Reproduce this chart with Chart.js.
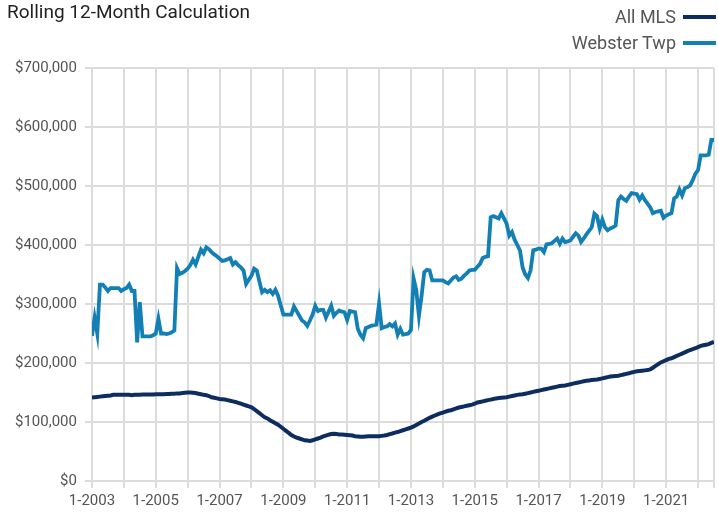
<!DOCTYPE html>
<html>
<head>
<meta charset="utf-8">
<script src="https://cdn.jsdelivr.net/npm/chart.js@4"></script>
<style>
  html, body { margin: 0; padding: 0; background: #fff; }
  body { width: 718px; height: 515px; position: relative; overflow: hidden;
         font-family: 'Liberation Sans Narrow', 'Arial Narrow', Roboto, sans-serif; }
  #wrap { position: absolute; left: 0; top: 0; width: 718px; height: 515px; }
  .title { position: absolute; left: 7px; top: 0px; font-size: 19px; color: #222; }
  .legend { position: absolute; right: 2px; font-size: 18px; color: #555; display: flex; align-items: center; }
  .legend span.swatch { display: inline-block; width: 33px; height: 4px; margin-left: 7px; }
</style>
</head>
<body>
<div id="wrap"><canvas id="chart"></canvas></div>
<div class="title">Rolling 12-Month Calculation</div>
<div class="legend" style="top:6px;">All MLS<span class="swatch" style="background:#0e2d5f"></span></div>
<div class="legend" style="top:32px;">Webster Twp<span class="swatch" style="background:#127fb5"></span></div>
<script>
// monthly, 1-2003 .. 7-2022 (values in $ thousands)
const startYear = 2003;

const allMls = [
  141.5, 142, 142.5, 143, 143.5, 144, 144.5, 145, 146, 146, 146, 146,
  146, 146, 146, 145.5, 146, 146, 146, 146.5, 146.5, 146.5, 146.5, 146.5,
  147, 147, 147, 147, 147.5, 147.5, 148, 148, 148.5, 148.5, 149, 149.5,
  150, 150, 149.5, 149, 148, 147, 146, 145.5, 144, 142, 141, 140,
  139, 138.5, 138, 137, 136, 135, 134, 132.5, 131, 129.5, 128, 126.5,
  125, 122, 118.5, 115, 111.5, 108, 106, 103, 100.5, 98, 95.5, 92,
  88.5, 85, 81.5, 78, 75.5, 73.5, 72, 70.5, 69, 68.5, 68, 69,
  70.5, 72, 73.5, 75.5, 77, 78.5, 79.5, 80, 79.5, 79, 79, 78.5,
  78, 77.5, 77, 76, 75.5, 75, 75, 75.5, 76, 76, 76, 76,
  76, 76.5, 77, 78, 79.5, 80.5, 82, 83, 84.5, 86, 87.5, 89,
  90.5, 92.5, 95, 97.5, 100, 102, 104.5, 107, 109, 111, 113, 114.5,
  116, 117.5, 119, 120, 121.5, 123, 124.5, 125.5, 126.5, 127.5, 128.5, 129.5,
  131, 133, 134, 135, 136, 137, 138, 139, 140, 140.5, 141, 141.5,
  142, 143, 144, 145, 146, 146.5, 147, 148, 149, 150, 151, 152,
  153, 154, 155, 156, 157, 158, 159, 160, 161, 161.5, 162, 163,
  164, 165, 166, 167, 168, 169, 170, 170.5, 171, 171.5, 172, 173,
  174, 175, 176, 177, 177.5, 178, 178.5, 179.5, 180.5, 181.5, 182.5, 184,
  185, 186, 186.5, 187, 187.5, 188, 189, 192, 195, 198, 201, 203,
  205, 207, 208, 210, 212, 214, 216, 218, 220, 222, 223.5, 225,
  227, 229, 230, 231, 232, 234, 236
];

const webster = [
  246, 277, 250, 333, 333, 328, 322, 327, 327, 327, 327, 322,
  325, 327, 333, 322, 322, 235, 303, 245, 245, 245, 245, 247,
  250, 275, 250, 250, 249, 250, 252, 255, 361, 351, 353, 356,
  360, 366, 375, 367, 380, 392, 386, 396, 393, 388, 384, 381,
  377, 373, 374, 376, 378, 367, 371, 366, 362, 357, 334, 341,
  348, 360, 357, 338, 320, 324, 320, 323, 317, 324, 314, 298,
  282, 282, 282, 282, 296, 288, 280, 272, 269, 263, 272, 282,
  297, 288, 290, 290, 277, 287, 297, 280, 285, 289, 287, 286,
  273, 288, 287, 286, 258, 248, 242, 259, 261, 263, 264, 265,
  301, 259, 261, 262, 266, 262, 267, 248, 258, 248, 249, 250,
  256, 343, 323, 280, 314, 354, 358, 357, 340, 340, 340, 340,
  340, 337, 335, 340, 345, 347, 341, 343, 348, 352, 357, 358,
  358, 363, 368, 378, 380, 381, 447, 449, 447, 445, 454, 445,
  436, 416, 422, 409, 400, 391, 362, 350, 344, 357, 391, 392,
  394, 394, 388, 401, 402, 403, 407, 411, 402, 411, 405, 406,
  408, 414, 420, 416, 405, 411, 418, 424, 430, 453, 449, 428,
  443, 430, 425, 428, 430, 433, 476, 482, 478, 475, 482, 488,
  487, 486, 477, 484, 476, 470, 464, 454, 456, 457, 458, 446,
  450, 452, 454, 479, 482, 494, 484, 496, 498, 501, 510, 521,
  527, 552, 552, 552, 553, 578, 578
];

const yTicks = [0, 100000, 200000, 300000, 400000, 500000, 600000, 700000];

const toPoints = arr => arr.map((v, i) => ({ x: i, y: v * 1000 }));
const lastIdx = webster.length - 1;

const gridColor = '#dcdcdc';
const tickFont = { family: "'Liberation Sans Narrow', 'Arial Narrow', Roboto, sans-serif", size: 15 };

new Chart(document.getElementById('chart'), {
  type: 'line',
  data: {
    datasets: [
      { label: 'Webster Twp', data: toPoints(webster), borderColor: '#127fb5', borderWidth: 3.8, pointRadius: 0, tension: 0 },
      { label: 'All MLS', data: toPoints(allMls), borderColor: '#0e2d5f', borderWidth: 4, pointRadius: 0, tension: 0 }
    ]
  },
  options: {
    responsive: true, maintainAspectRatio: false, animation: false,
    layout: { padding: { top: 68, left: 7, right: 1, bottom: 1 } },
    plugins: { legend: { display: false }, tooltip: { enabled: false } },
    scales: {
      x: {
        type: 'linear', min: 0, max: lastIdx,
        afterBuildTicks: s => {
          const t = [];
          for (let v = 0; v <= lastIdx; v += 12) t.push({ value: v });
          if (t[t.length - 1].value !== lastIdx) t.push({ value: lastIdx });
          s.ticks = t;
        },
        ticks: {
          autoSkip: false, maxRotation: 0, color: '#555', padding: 4, font: tickFont,
          callback: v => (v % 24 === 0 ? '1-' + (startYear + v / 12) : '')
        },
        grid: { color: gridColor, lineWidth: 2, tickLength: 7 },
        border: { color: gridColor, width: 2 }
      },
      y: {
        min: 0, max: 700000,
        afterBuildTicks: s => { s.ticks = yTicks.map(v => ({ value: v })); },
        ticks: {
          color: '#555', padding: 8, font: tickFont,
          callback: v => '$' + v.toLocaleString('en-US')
        },
        grid: { color: gridColor, lineWidth: 2, tickLength: 7 },
        border: { color: gridColor, width: 2 }
      }
    }
  }
});
</script>
</body>
</html>
